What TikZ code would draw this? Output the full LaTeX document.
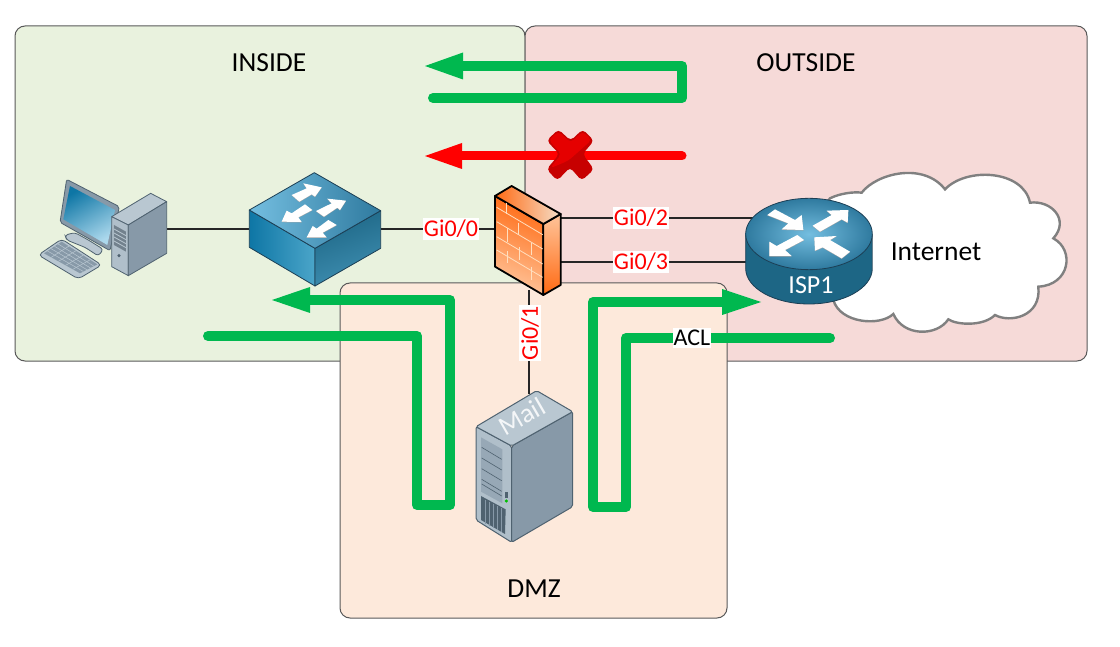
\documentclass[tikz,border=0pt]{standalone}
\usepackage{fontspec}
\setmainfont{Carlito}
\usetikzlibrary{arrows.meta,calc}
\definecolor{insidec}{HTML}{E9F2DE}
\definecolor{outsidec}{HTML}{F6DAD8}
\definecolor{dmzc}{HTML}{FDE9DB}
\definecolor{grn}{HTML}{00B84F}
\definecolor{edgec}{HTML}{1C3F55}
\definecolor{srvedge}{HTML}{4F6270}
\definecolor{srvtop}{HTML}{B9C7D1}
\definecolor{srvfront}{HTML}{B0BFCA}
\definecolor{srvside}{HTML}{8799A8}
\definecolor{bluea}{HTML}{0E76A5}
\definecolor{blueb}{HTML}{4BA5C9}
\definecolor{bluec}{HTML}{1D6685}
\definecolor{blued}{HTML}{3F8FB2}
\definecolor{bluee}{HTML}{74BEE0}
\definecolor{bluef}{HTML}{2F7A9F}
\definecolor{fwa}{HTML}{FF6A13}
\definecolor{fwb}{HTML}{FFC49A}
\definecolor{fwc}{HTML}{F5DEC8}
\tikzset{
  zone/.style={draw=black!65,line width=1pt,rounded corners=10pt},
  zonetext/.style={font=\fontsize{27.5}{30}\selectfont,text=black,inner sep=0pt},
  portlabel/.style={font=\fontsize{24}{28}\selectfont,text=red,fill=white,inner xsep=1pt,inner ysep=2pt},
  link/.style={draw=black!85,line width=1.6pt},
  iconbox/.style={inner sep=0pt,minimum width=#1,minimum height=0pt},
  flow/.style={draw=grn,line width=10pt,line join=round,line cap=round},
  brick/.style={draw=orange!25!white,line width=0.8pt},
  icon/.style={draw=edgec,line width=0.8pt,line join=round},
}
\newcommand{\wpoly}[1]{\fill[black!35,yshift=-1.6pt] #1; \fill[white] #1;}
\begin{document}
\begin{tikzpicture}[x=1pt,y=-1pt]
\useasboundingbox (0,0) rectangle (1120,647);
\fill[white] (0,0) rectangle (1120,647);
% zones
\path[zone,fill=insidec] (15,26) rectangle (525,361);
\path[zone,fill=outsidec] (525,26) rectangle (1087,361);
\path[zone,fill=dmzc] (340,283) rectangle (727,618);
\node[zonetext] (insidelbl) at (269,63) {INSIDE};
\node[zonetext] (outsidelbl) at (806,63) {OUTSIDE};
\node[zonetext] (dmzlbl) at (534,589) {DMZ};
% anchor nodes
\node[iconbox=129pt] (pc) at (102.5,229) {};
\node[iconbox=132pt] (sw) at (315,229) {};
\node[iconbox=66pt] (fw) at (528,229) {};
\coordinate (fwpa) at (560,218);
\coordinate (fwpb) at (560,262);
\coordinate (fwpc) at (529,290);
\coordinate (ra) at (756,218);
\coordinate (rb) at (750,262);
\coordinate (srv) at (529,394);
% cloud
\begin{scope}[shift={(680,160)},scale=1/3]
\draw[draw=black!50,line width=2.4pt,fill=white] (450,115)
  .. controls (480,100) and (520,95) .. (545,98)
  .. controls (590,40) and (730,5) .. (795,88)
  .. controls (860,20) and (1030,30) .. (1050,128)
  .. controls (1115,120) and (1170,180) .. (1120,235)
  .. controls (1185,270) and (1170,375) .. (1075,380)
  .. controls (1085,470) and (990,490) .. (945,465)
  .. controls (910,500) and (830,495) .. (805,478)
  .. controls (770,530) and (670,530) .. (640,462)
  .. controls (600,500) and (480,490) .. (460,420)
  -- (300,300) -- cycle;
\end{scope}
% links
\draw[link] (pc.east) -- (sw.west);
\draw[link] (sw.east) -- (fw.west);
\draw[link] (fwpa) -- (ra);
\draw[link] (fwpb) -- (rb);
\draw[link] (fwpc) -- (srv);
% PC
\begin{scope}[shift={(20,160)},scale=1/3]
\fill[srvside,draw=srvedge,line width=0.8pt,rounded corners=2pt] (140,58) -- (298,140) -- (270,272) -- (120,187) -- cycle;
\shade[left color=bluea,right color=bluee!60!white,shading angle=30] (150,78) -- (285,150) -- (262,255) -- (130,178) -- cycle;
\fill[srvtop,draw=srvedge,line width=0.8pt,rounded corners=3pt] (135,225) -- (165,218) -- (205,240) -- (250,268) -- (235,288) -- (195,262) -- (140,240) -- cycle;
\fill[srvtop,draw=srvedge,line width=0.8pt,rounded corners=4pt] (55,285) -- (125,237) -- (245,315) -- (175,357) -- cycle;
\fill[srvside] (72,280) -- (125,245) -- (232,313) -- (180,340) -- cycle;
\foreach \t in {0.2,0.4,0.6,0.8} {
  \draw[srvtop,line width=0.5pt] ($(72,280)!\t!(125,245)$) -- ($(180,340)!\t!(232,313)$);
  \draw[srvtop,line width=0.5pt] ($(72,280)!\t!(180,340)$) -- ($(125,245)!\t!(232,313)$);
}
\filldraw[draw=srvedge,line width=0.8pt,fill=srvtop,line join=round] (275,170) -- (392,100) -- (440,125) -- (325,195) -- cycle;
\filldraw[draw=srvedge,line width=0.8pt,fill=srvfront,line join=round] (275,170) -- (325,195) -- (325,347) -- (275,320) -- cycle;
\filldraw[draw=srvedge,line width=0.8pt,fill=srvside,line join=round] (325,195) -- (440,125) -- (440,280) -- (325,347) -- cycle;
\fill[srvedge!80] (282,195) -- (318,215) -- (318,275) -- (282,255) -- cycle;
\foreach \d in {12,24,36,48} \draw[srvtop,line width=0.8pt] (282,195+\d) -- (318,215+\d);
\fill[srvedge] (297,287) circle (5);
\end{scope}
% switch
\begin{scope}[shift={(20,160)},scale=1/3]
\shade[icon,left color=bluea,right color=blueb] (688,150) -- (885,265) -- (885,378) -- (688,262) -- cycle;
\shade[icon,left color=bluec,right color=blued,shading angle=20] (885,265) -- (1082,152) -- (1082,265) -- (885,378) -- cycle;
\shade[icon,left color=bluee,right color=bluef] (688,150) -- (883,38) -- (1082,152) -- (885,265) -- cycle;
\wpoly{(815,105) -- (860,85) -- (850,70) -- (905,82) -- (885,110) -- (875,103) -- (838,125) -- cycle}
\wpoly{(888,153) -- (935,130) -- (922,116) -- (978,122) -- (960,150) -- (952,143) -- (912,170) -- cycle}
\wpoly{(855,133) -- (877,150) -- (835,172) -- (845,186) -- (785,185) -- (800,152) -- (815,160) -- cycle}
\wpoly{(925,180) -- (950,195) -- (908,218) -- (920,232) -- (860,232) -- (878,198) -- (890,206) -- cycle}
\end{scope}
% firewall
\begin{scope}[shift={(400,120)},scale=1/3]
\shade[draw=black,line width=1.8pt,line join=round,left color=fwa,right color=fwb,shading angle=340] (285,228) -- (430,312) -- (430,525) -- (285,440) -- cycle;
\shade[draw=black,line width=1.8pt,line join=round,top color=fwb,bottom color=fwa] (430,312) -- (482,282) -- (482,495) -- (430,525) -- cycle;
\shade[draw=black,line width=1.8pt,line join=round,left color=fwa,right color=fwc] (285,228) -- (335,198) -- (482,282) -- (430,312) -- cycle;
\foreach \l in {262,305,350,390}
  \draw[brick] (290,\l) -- (428,\l+82);
\draw[brick] (320,250) -- (320,283);
\draw[brick] (356,308) -- (356,345);
\draw[brick] (322,325) -- (322,365);
\draw[brick] (395,368) -- (395,405);
\draw[brick] (358,382) -- (358,420);
\draw[brick] (322,393) -- (322,430);
\draw[brick] (395,440) -- (395,480);
\end{scope}
% router
\begin{scope}[shift={(680,160)},scale=1/3]
\shade[icon,left color=bluec,middle color=blueb,right color=bluec] (197,222) -- (197,325) arc[start angle=180,end angle=0,x radius=190,y radius=107] -- (577,222) -- cycle;
\shade[icon,inner color=bluee,outer color=bluef] (387,222) ellipse[x radius=190,y radius=107];
\wpoly{(262,165) -- (285,148) -- (345,180) -- (365,165) -- (370,210) -- (305,208) -- (325,190) -- cycle}
\wpoly{(398,197) -- (455,165) -- (440,152) -- (505,150) -- (503,188) -- (485,178) -- (420,215) -- cycle}
\wpoly{(352,225) -- (372,240) -- (315,270) -- (335,288) -- (268,288) -- (268,245) -- (290,258) -- cycle}
\wpoly{(510,275) -- (485,295) -- (428,262) -- (405,272) -- (403,232) -- (470,228) -- (450,240) -- cycle}
\end{scope}
\node[font=\fontsize{26}{30}\selectfont,text=white,inner sep=0pt] (isp) at (811,285) {ISP1};
\node[zonetext] (inet) at (936,252) {Internet};
% server
\begin{scope}[shift={(400,370)},scale=1/3]
\filldraw[draw=srvedge,line width=1pt,fill=srvfront,line join=round,rounded corners=2pt] (228,170) -- (335,228) -- (335,517) -- (228,450) -- cycle;
\filldraw[draw=srvedge,line width=1pt,fill=srvside,line join=round,rounded corners=2pt] (335,228) -- (518,125) -- (518,410) -- (335,517) -- cycle;
\filldraw[draw=srvedge,line width=1pt,fill=srvtop,line join=round,rounded corners=2pt] (228,170) -- (410,62) -- (518,125) -- (335,228) -- cycle;
\fill[srvside!60!srvfront] (243,202) -- (307,238) -- (307,400) -- (243,365) -- cycle;
\foreach \d in {30,62,94,126,140}
  \draw[srvedge,line width=0.6pt] (245,202+\d) -- (305,238+\d);
\fill[srvedge] (243,378) -- (317,418) -- (315,492) -- (243,450) -- cycle;
\foreach \x in {255,267,279,291,303}
  \draw[srvside,line width=0.6pt] (\x,392+\x/2-130) -- (\x,465+\x/2-130);
\fill[srvedge] (316,365) rectangle (323,385);
\fill[green!75!black] (319,393) circle (5);
\end{scope}
\node[font=\fontsize{27}{30}\selectfont,text=white,opacity=0.85,rotate=30,inner sep=0pt] (mail) at (522,416) {Mail};
% flows
\coordinate (g1s) at (433,98); \coordinate (g1a) at (682,98); \coordinate (g1b) at (682,66); \coordinate (g1e) at (425,66);
\draw[flow] (g1s) -- (g1a) -- (g1b) -- (463,66);
\fill[grn] (g1e) -- (463,52.5) -- (463,79.5) -- cycle;
\coordinate (r1s) at (682,156); \coordinate (r1e) at (425,156);
\draw[draw=red,line width=9pt,line cap=round] (r1s) -- (462,156);
\fill[red] (r1e) -- (462,143) -- (462,169) -- cycle;
\coordinate (g2s) at (208,336); \coordinate (g2a) at (417,336); \coordinate (g2b) at (417,505); \coordinate (g2c) at (450,505); \coordinate (g2d) at (450,300); \coordinate (g2e) at (272,300);
\draw[flow] (g2s) -- (g2a) -- (g2b) -- (g2c) -- (g2d) -- (310,300);
\fill[grn] (g2e) -- (310,287) -- (310,313) -- cycle;
\coordinate (g3s) at (830,338); \coordinate (g3a) at (626,338); \coordinate (g3b) at (626,507); \coordinate (g3c) at (593,507); \coordinate (g3d) at (593,302); \coordinate (g3e) at (761,302);
\draw[flow] (g3s) -- (g3a) -- (g3b) -- (g3c) -- (g3d) -- (722,302);
\fill[grn] (g3e) -- (722,289) -- (722,315) -- cycle;
% red cross
\begin{scope}[shift={(400,120)},scale=1/3]
\fill[red!78!black,rounded corners=4pt] (440,62) -- (475,28) -- (512,62) -- (548,28) -- (582,62) -- (548,102) -- (582,148) -- (545,182) -- (510,142) -- (472,182) -- (440,148) -- (478,102) -- cycle;
\fill[red!90!black,rounded corners=4pt] (446,60) -- (475,34) -- (512,68) -- (548,34) -- (575,60) -- (505,122) -- (450,145) -- (484,102) -- cycle;
\end{scope}
% labels
\node[portlabel] (g00) at (451,229) {Gi0/0};
\node[portlabel] (g02) at (641,218) {Gi0/2};
\node[portlabel] (g03) at (641,262) {Gi0/3};
\node[portlabel,rotate=90] (g01) at (530,333) {Gi0/1};
\node[font=\fontsize{24}{28}\selectfont,text=black,fill=white,inner xsep=1pt,inner ysep=2pt] (acl) at (692,338) {ACL};
\end{tikzpicture}
\end{document}
